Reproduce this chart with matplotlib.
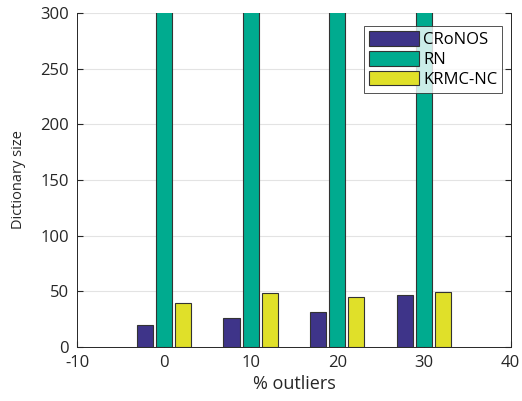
import matplotlib.pyplot as plt
import numpy as np

plt.rcParams['font.family'] = ['Open Sans', 'DejaVu Sans']
plt.rcParams['axes.unicode_minus'] = False

outliers = [0, 10, 20, 30]
cronos = [20, 26, 31, 47]
rn = [420, 430, 440, 450]  # runs far above the y-limit
krmc_nc = [39, 48, 45, 49]

series = [("CRoNOS", cronos, "#3e3489"),
          ("RN", rn, "#00ab8f"),
          ("KRMC-NC", krmc_nc, "#e0e029")]

fig = plt.figure(figsize=(5.22, 4.01), dpi=100)
ax = fig.add_axes([0.148, 0.135, 0.83, 0.833])

x = np.array(outliers, dtype=float)
width = 1.85
offsets = [-2.2, 0, 2.2]
for (name, vals, col), off in zip(series, offsets):
    ax.bar(x + off, vals, width, color=col, edgecolor="#333333",
           linewidth=0.8, label=name, zorder=3)

ax.set_xlim(-10, 40)
ax.set_ylim(0, 300)
ax.set_xticks([-10, 0, 10, 20, 30, 40])
ax.set_yticks([0, 50, 100, 150, 200, 250, 300])
ax.grid(axis="y", color="#e3e3e3", linewidth=0.8, zorder=0)
ax.tick_params(direction="in", length=4, labelsize=12, colors="#262626",
               right=True, top=False, pad=6)
for s in ax.spines.values():
    s.set_color("#262626")
    s.set_linewidth(0.7)
ax.spines["top"].set_visible(False)

ax.set_xlabel("% outliers", fontsize=13, color="#262626", labelpad=3)
ax.set_ylabel("Dictionary size", fontsize=10.5, color="#262626", labelpad=10)

leg = ax.legend(loc="upper right", bbox_to_anchor=(0.993, 0.975),
                fontsize=12, handlelength=3.0, handleheight=1.0,
                frameon=True, fancybox=False, borderpad=0.3,
                labelspacing=0.15, handletextpad=0.25, borderaxespad=0.3)
leg.get_frame().set_edgecolor("#262626")
leg.get_frame().set_linewidth(0.7)

fig.savefig("out.png", dpi=100)
